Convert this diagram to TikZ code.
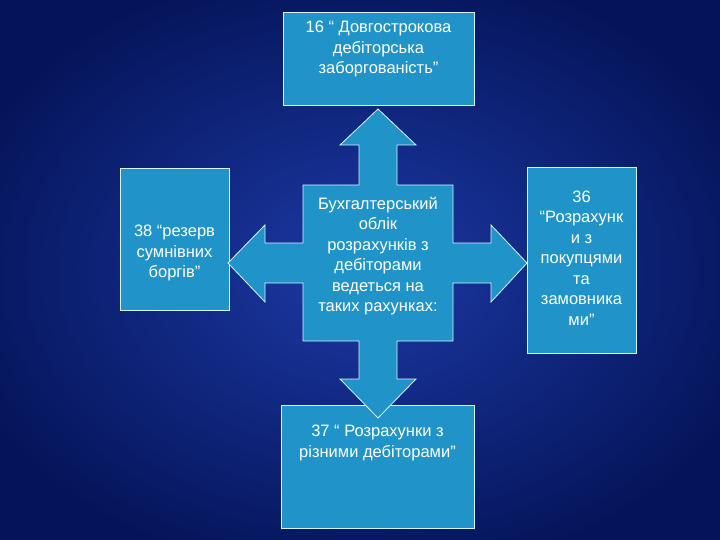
\documentclass[tikz,border=0pt]{standalone}
\usepackage{fontspec}
\setmainfont{Liberation Sans}
\begin{document}
\begin{tikzpicture}[x=1pt,y=-1pt,
  bx/.style={draw=white!85!cyan,line width=0.8pt,fill=tealfill,text=white,align=center,inner sep=2pt},
  lbl/.style={text=white,font=\fontsize{16.5}{20.5}\selectfont,align=center,inner sep=0pt}]
\definecolor{tealfill}{RGB}{32,148,200}
\useasboundingbox (0,0) rectangle (720,540);
\shade[inner color={rgb,255:red,28;green,58;blue,165},outer color={rgb,255:red,5;green,20;blue,90}] (-60,-40) rectangle (780,580);
% boxes
\draw[bx] (283,12) rectangle (474,105);
\node[lbl,anchor=north] (top) at (378.5,21) {16 “ Довгострокова\\дебіторська\\заборгованість”};
\draw[bx] (120,168) rectangle (229,310);
\node[lbl] (left) at (174.5,253) {38 “резерв\\сумнівних\\боргів”};
\draw[bx] (527,167) rectangle (636,353);
\node[lbl] (right) at (581.5,258) {36\\“Розрахунк\\и з\\покупцями\\та\\замовника\\ми”};
\draw[bx] (281,405) rectangle (474,528);
\node[lbl,anchor=north] (bot) at (377.5,425) {37 “ Розрахунки з\\різними дебіторами”};
% cross arrow
\draw[bx] (378,109) -- (416,145) -- (397,145) -- (397,185) -- (453,185) -- (453,243) -- (491,243) -- (491,225) -- (527,263)
 -- (491,302) -- (491,283) -- (453,283) -- (453,341) -- (397,341) -- (397,379) -- (416,379) -- (378,418)
 -- (340,379) -- (359,379) -- (359,341) -- (303,341) -- (303,283) -- (265,283) -- (265,302) -- (228,263)
 -- (265,225) -- (265,243) -- (303,243) -- (303,185) -- (359,185) -- (359,145) -- (340,145) -- cycle;
\node[lbl] (mid) at (378,256) {Бухгалтерський\\облік\\розрахунків з\\дебіторами\\ведеться на\\таких рахунках:};
\end{tikzpicture}
\end{document}
